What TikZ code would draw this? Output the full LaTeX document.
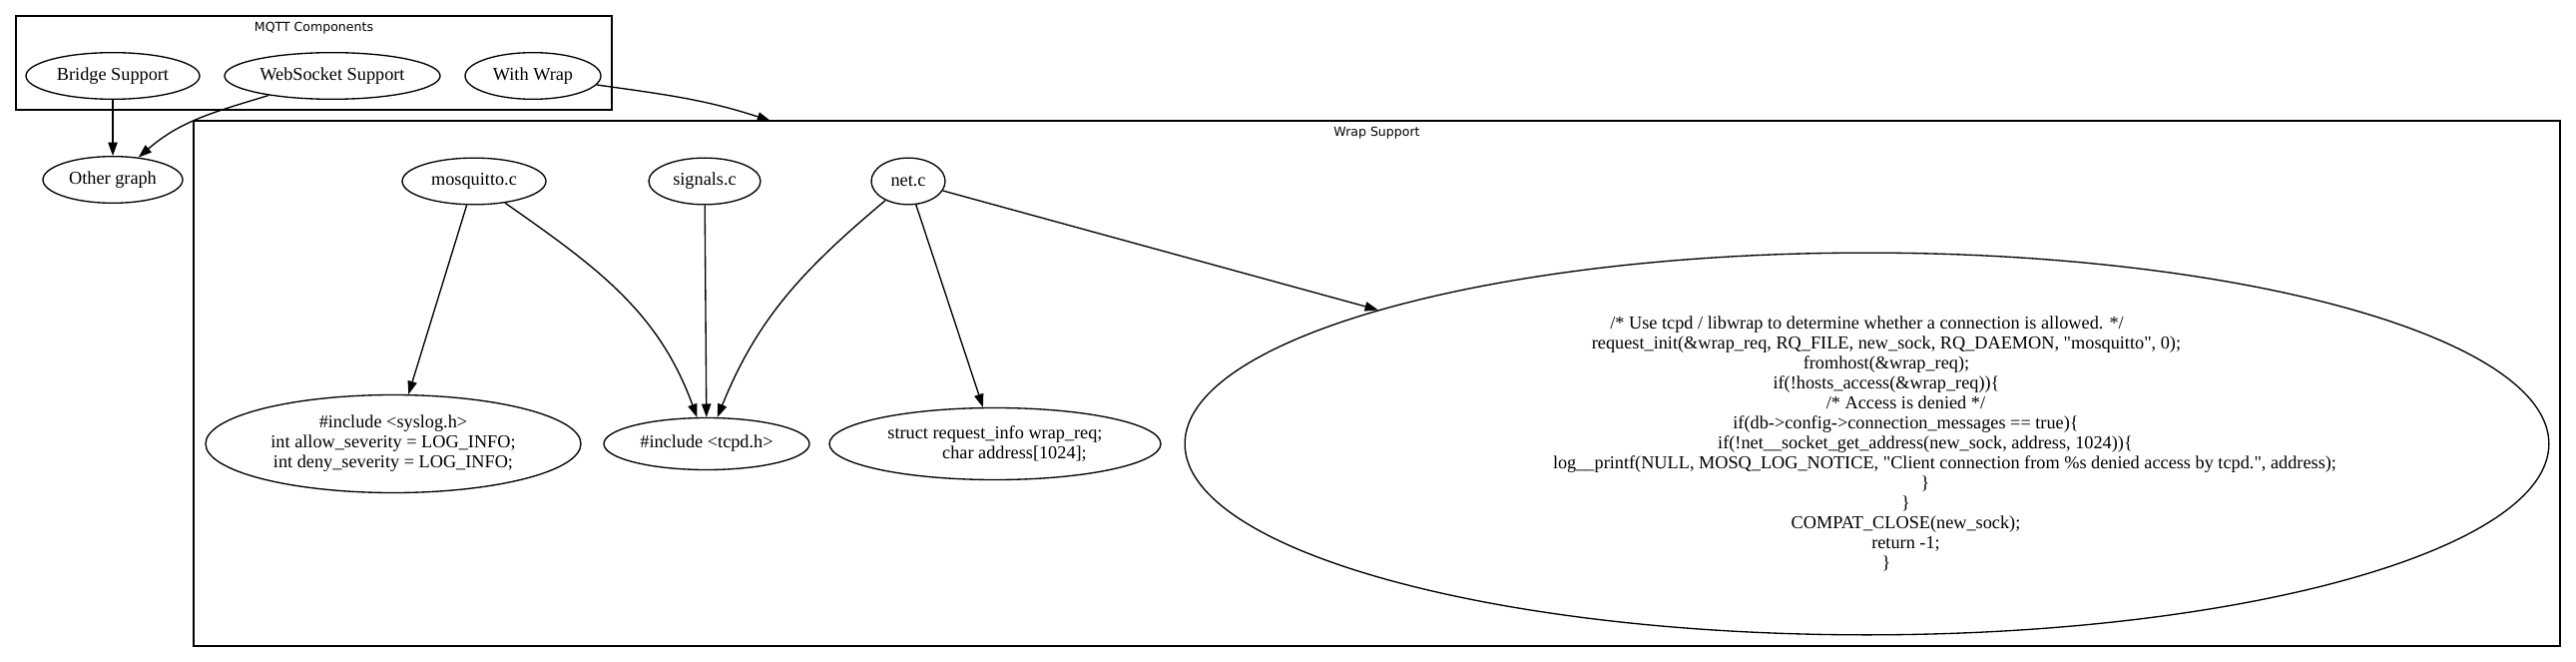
\documentclass[tikz,border=0pt]{standalone}
\usepackage{fontspec}
\newfontfamily\grafo{Liberation Serif}
\newfontfamily\etichetta{DejaVu Sans}
\usepackage{tikz}
\usetikzlibrary{shapes.geometric, arrows.meta}
\newlength{\passorientro}
\setlength{\passorientro}{29.25pt}
\newcommand{\rientro}[1]{\hspace*{#1\passorientro}}

\begin{document}
\begin{tikzpicture}[x = 0.75pt, y = -0.75pt,
    font = \grafo\fontsize{13.7}{15}\selectfont,
    nodo/.style = {ellipse, draw, line width = 1pt, inner sep = 0pt, minimum height = 35pt, align = center},
    freccia/.style = {-{Triangle[length = 10pt, width = 7pt]}, line width = 1pt},
    gruppo/.style = {draw, line width = 1pt},
    titolo/.style = {font = \etichetta\fontsize{9.4}{11}\selectfont, inner sep = 0pt}]
    % Parametri
    \pgfmathsetmacro{\alto}{76}
    \pgfmathsetmacro{\medio}{181.5}
    \pgfmathsetmacro{\basso}{444.5}
    \useasboundingbox (0,0) rectangle (2581,663);
    % Riquadri
    \draw[gruppo] (16,16) rectangle (613,110);
    \node[titolo] (tmqtt) at (314.5,28) {MQTT Components};
    \draw[gruppo] (194,121) rectangle (2565,647);
    \node[titolo] (twrap) at (1379.5,133) {Wrap Support};
    \coordinate (ingresso) at (772,121);
    % Componenti MQTT
    \node[nodo, minimum width = 130.5pt] (bridge) at (113,\alto) {Bridge Support};
    \node[nodo, minimum width = 162pt] (ws) at (333,\alto) {WebSocket Support};
    \node[nodo, minimum width = 102pt] (wrap) at (534,\alto) {With Wrap};
    \node[nodo, minimum width = 105pt] (other) at (113,180) {Other graph};
    % Sorgenti
    \node[nodo, minimum width = 108pt] (mosq) at (475,\medio) {mosquitto.c};
    \node[nodo, minimum width = 84pt] (sig) at (706,\medio) {signals.c};
    \node[nodo, minimum width = 55.5pt] (net) at (910,\medio) {net.c};
    % Frammenti
    \node[nodo, minimum width = 282pt, minimum height = 73.5pt] (syslog) at (394,\basso)
        {\#include <syslog.h>\\int allow\_severity = LOG\_INFO;\\int deny\_severity = LOG\_INFO;};
    \node[nodo, minimum width = 154.5pt, minimum height = 39pt] (tcpd) at (708,\basso) {\#include <tcpd.h>};
    \node[nodo, minimum width = 249pt, minimum height = 54pt] (req) at (997,\basso)
        {struct request\_info wrap\_req;\\\rientro{1}char address[1024];};
    \node[nodo, minimum width = 1025pt, minimum height = 287pt] (check) at (1870.5,\basso)
        {/* Use tcpd / libwrap to determine whether a connection is allowed. */\\
        \rientro{1}request\_init(\&wrap\_req, RQ\_FILE, new\_sock, RQ\_DAEMON, "mosquitto", 0);\\
        \rientro{1}fromhost(\&wrap\_req);\\
        \rientro{1}if(!hosts\_access(\&wrap\_req))\{\\
        \rientro{2}/* Access is denied */\\
        \rientro{2}if(db->config->connection\_messages == true)\{\\
        \rientro{3}if(!net\_\_socket\_get\_address(new\_sock, address, 1024))\{\\
        \rientro{4}log\_\_printf(NULL, MOSQ\_LOG\_NOTICE, "Client connection from \%s denied access by tcpd.", address);\\
        \rientro{3}\}\\
        \rientro{2}\}\\
        \rientro{2}COMPAT\_CLOSE(new\_sock);\\
        \rientro{2}return -1;\\
        \rientro{1}\}};
    % Archi
    \draw[freccia] (bridge) -- (other);
    \draw[freccia] (ws) to[out = -163, in = 41] (other);
    \draw[freccia] (wrap) to[out = -8, in = 162] (ingresso);
    \draw[freccia] (mosq) -- (syslog);
    \draw[freccia] (mosq) to[out = -35, in = 110] (tcpd);
    \draw[freccia] (sig) -- (tcpd);
    \draw[freccia] (net) to[out = -140, in = 68] (tcpd);
    \draw[freccia] (net) -- (req);
    \draw[freccia] (net) -- (check);
\end{tikzpicture}
\end{document}
